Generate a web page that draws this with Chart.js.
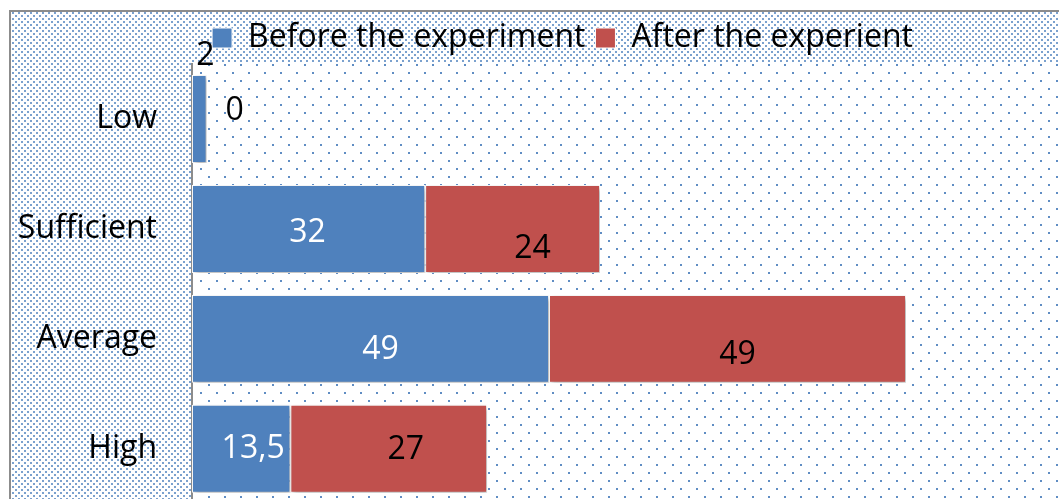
<!DOCTYPE html>
<html>
<head>
<meta charset="utf-8">
<script src="https://cdn.jsdelivr.net/npm/chart.js@4.4.1/dist/chart.umd.min.js"></script>
<style>
html, body { margin:0; padding:0; background:#fff; overflow:hidden; }
#MyChart { display:block; }
</style>
</head>
<body>
<canvas id="MyChart" width="1059" height="523"></canvas>
<script>
var categories = ["Low", "Sufficient", "Average", "High"];
var beforeValues = [2, 32, 49, 13.5];
var afterValues = [0, 24, 49, 27];
var seriesNames = ["Before the experiment", "After the experient"];

var FONT = "'Open Sans', 'DejaVu Sans', sans-serif";

function makePattern(size, dots, color) {
	var c = document.createElement('canvas');
	c.width = size; c.height = size;
	var g = c.getContext('2d');
	g.fillStyle = color;
	dots.forEach(function(d) { g.fillRect(d[0], d[1], d[2], d[2]); });
	return c;
}

// dotted backgrounds: dense outside, sparse inside the plot
var bgPlugin = {
	id: 'bgPlugin',
	afterLayout: function(chart) {
		// legend sits a bit right of centre in the original
		chart.legend.left += 33;
		chart.legend.right += 33;
	},
	beforeDraw: function(chart) {
		var ctx = chart.ctx, a = chart.chartArea;
		var dense = ctx.createPattern(makePattern(6, [[0,0,2],[3,3,2]], 'rgba(79,129,189,0.75)'), 'repeat');
		var sparse = ctx.createPattern(makePattern(16, [[0,0,2],[8,8,2]], 'rgba(79,129,189,0.9)'), 'repeat');
		ctx.save();
		ctx.fillStyle = '#fff';
		ctx.fillRect(0, 0, chart.width, chart.height);
		ctx.fillStyle = dense;
		ctx.fillRect(11, 12, chart.width, chart.height);
		ctx.strokeStyle = '#8c8c8c';
		ctx.lineWidth = 2;
		ctx.beginPath();
		ctx.moveTo(10, chart.height); ctx.lineTo(10, 11); ctx.lineTo(chart.width, 11);
		ctx.stroke();
		ctx.fillStyle = '#fff';
		ctx.fillRect(a.left, a.top - 2, a.right - a.left, chart.height);
		ctx.fillStyle = sparse;
		ctx.fillRect(a.left + 2, a.top - 2, a.right - a.left, chart.height);
		ctx.restore();
	}
};

var shadowPlugin = {
	id: 'shadowPlugin',
	beforeDatasetsDraw: function(chart) {
		var ctx = chart.ctx;
		ctx.save();
		ctx.shadowColor = 'rgba(0,0,0,0.35)';
		ctx.shadowBlur = 5;
		ctx.shadowOffsetX = 2;
		ctx.shadowOffsetY = 2;
	},
	afterDatasetsDraw: function(chart) {
		chart.ctx.restore();
	}
};

var labelPlugin = {
	id: 'barLabels',
	afterDraw: function(chart, args, opts) {
		var ctx = chart.ctx;
		ctx.save();
		ctx.font = '32px ' + FONT;
		ctx.textAlign = 'center';
		ctx.textBaseline = 'middle';
		chart.data.datasets.forEach(function(ds, di) {
			var meta = chart.getDatasetMeta(di);
			meta.data.forEach(function(el, i) {
				var nudge = opts.nudge[di][i];
				var cx = (el.x + el.base) / 2 + nudge[0];
				var cy = el.y + nudge[1];
				ctx.fillStyle = opts.colors[di][i];
				ctx.fillText(String(ds.data[i]).replace('.', ','), cx, cy);
			});
		});
		ctx.restore();
	}
};

var ctx = document.getElementById('MyChart').getContext('2d');
var chart = new Chart(ctx, {
	type: 'bar',
	data: {
		labels: categories,
		datasets: [{
			label: seriesNames[0],
			data: beforeValues,
			backgroundColor: '#4F81BD',
			borderColor: '#ffffff',
			borderWidth: 1,
			borderSkipped: false
		}, {
			label: seriesNames[1],
			data: afterValues,
			backgroundColor: '#C0504D',
			borderColor: '#ffffff',
			borderWidth: 1,
			borderSkipped: false
		}]
	},
	options: {
		indexAxis: 'y',
		responsive: false,
		animation: false,
		devicePixelRatio: 1,
		layout: { padding: { left: 0, top: 12, right: 0, bottom: 0 } },
		datasets: { bar: { categoryPercentage: 1, barPercentage: 0.8 } },
		scales: {
			x: { stacked: true, min: 0, max: 119, display: false },
			y: {
				stacked: true,
				grid: { display: true, drawOnChartArea: false, drawTicks: true, tickLength: 35, color: 'rgba(0,0,0,0)' },
				border: { display: true, color: '#8c8c8c', width: 2 },
				ticks: {
					color: '#000',
					padding: 0,
					font: { family: FONT, size: 32 }
				},
				afterFit: function(scale) { scale.width = 192; }
			}
		},
		plugins: {
			legend: {
				position: 'top',
				align: 'center',
				labels: {
					boxWidth: 20,
					boxHeight: 20,
					padding: 10,
					color: '#000',
					font: { family: FONT, size: 32 }
				}
			},
			tooltip: { enabled: false },
			barLabels: {
				nudge: [
					[[6, -63], [-1, 4], [10, 11], [12, 0]],
					[[28, -8], [20, 20], [10, 16], [17, 1]]
				],
				colors: [
					['#000', '#fff', '#fff', '#fff'],
					['#000', '#000', '#000', '#000']
				]
			}
		}
	},
	plugins: [bgPlugin, shadowPlugin, labelPlugin]
});
</script>
</body>
</html>
